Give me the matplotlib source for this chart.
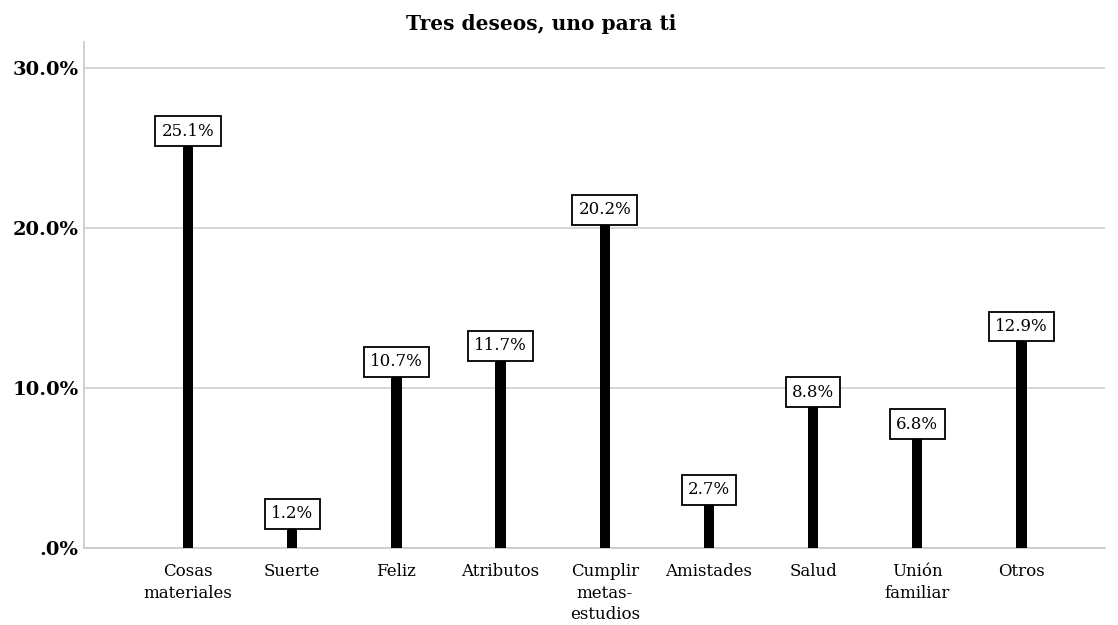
import matplotlib
matplotlib.use("Agg")
import matplotlib.pyplot as plt
import numpy as np

categories = ["Cosas\nmateriales", "Suerte", "Feliz", "Atributos", "Cumplir\nmetas-\nestudios",
              "Amistades", "Salud", "Unión\nfamiliar", "Otros"]
values = [25.1, 1.2, 10.7, 11.7, 20.2, 2.7, 8.8, 6.8, 12.9]
yticks = [0, 10, 20, 30]
ytick_labels = [".0%", "10.0%", "20.0%", "30.0%"]
title = "Tres deseos, uno para ti"

plt.rcParams['font.family'] = ['DejaVu Serif']

fig = plt.figure(figsize=(11.18, 6.25), dpi=100)
ax = fig.add_axes([0.0751, 0.1232, 0.913, 0.8096])

x = np.arange(len(categories))
ax.bar(x, values, width=0.1, color='black', zorder=3)

fs = 12
pad = 0.38
for xi, v in zip(x, values):
    ax.annotate(f"{v:.1f}%", (xi, v), xytext=(0, pad * fs), textcoords='offset points',
                ha='center', va='bottom', fontsize=fs, zorder=4,
                bbox=dict(boxstyle=f'square,pad={pad}', fc='white', ec='black', lw=1.3))

ax.set_xlim(-1.0, 8.8)
ax.set_ylim(0, 31.6)
ax.set_yticks(yticks)
ax.set_yticklabels(ytick_labels, fontweight='bold', fontsize=14)
ax.set_xticks(x)
ax.set_xticklabels(categories, fontsize=12, linespacing=1.35)
ax.tick_params(axis='x', length=0, pad=11)
ax.tick_params(axis='y', length=0, pad=4)
ax.grid(axis='y', color='#d0d0d0', lw=1.2, zorder=0)
for s in ['top', 'right']:
    ax.spines[s].set_visible(False)
for s in ['left', 'bottom']:
    ax.spines[s].set_color('#c8c8c8')
    ax.spines[s].set_linewidth(1.2)

fig.text(0.484, 0.962, title, ha='center', va='center', fontweight='bold', fontsize=14.5)

fig.savefig("out.png", dpi=100, facecolor='white')
